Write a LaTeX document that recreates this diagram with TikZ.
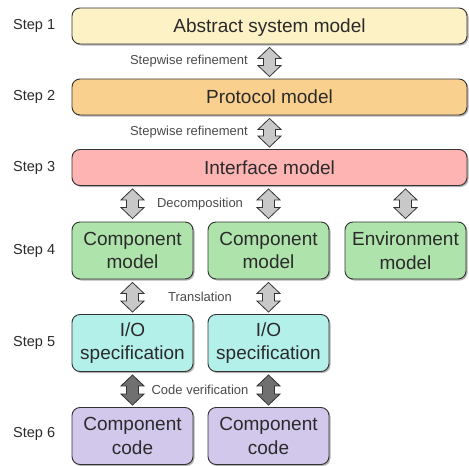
\documentclass[tikz,border=0pt]{standalone}
\usepackage{fontspec}
\setmainfont{Liberation Sans}
\usetikzlibrary{calc,shadows}
\definecolor{cyel}{HTML}{FDF1C6}
\definecolor{corg}{HTML}{FAD08F}
\definecolor{cpnk}{HTML}{FFB4B4}
\definecolor{cgrn}{HTML}{AEE4AC}
\definecolor{ccyn}{HTML}{B3F0EA}
\definecolor{cpur}{HTML}{D2C8EC}
\definecolor{cltg}{HTML}{C8C8C8}
\definecolor{cdkg}{HTML}{707070}
\definecolor{cline}{HTML}{333333}
\definecolor{ctext}{HTML}{2A2A2A}
\tikzset{
  box/.style={draw=cline, line width=0.9pt, rounded corners=8pt, inner sep=0pt,
    align=center, text=ctext, font=\fontsize{19}{23.5}\selectfont,
    drop shadow={shadow xshift=1.5pt, shadow yshift=-1.5pt, opacity=0.3, fill=black}},
  widebox/.style={box, minimum width=395pt, minimum height=36pt, text depth=0pt},
  smallbox/.style={box, minimum width=121pt, minimum height=57pt},
  steplbl/.style={anchor=west, inner sep=0pt, text=ctext, font=\fontsize{14.5}{16}\selectfont},
  arrlbl/.style={inner sep=0pt, text=ctext!85!white, font=\fontsize{13}{15}\selectfont},
  arrowshape/.style={draw=cline, line width=0.8pt, line join=miter}
}
\newcommand\blockarr[3]{%
  \draw[arrowshape, fill=#3] (#1) -- ++(11.5,11) -- ++(-5.5,0) -- ($(#2)+(6,-11)$) -- ++(5.5,0)
    -- (#2) -- ++(-11.5,-11) -- ++(5.5,0) -- ($(#1)+(-6,11)$) -- ++(-5.5,0) -- cycle;}
\begin{document}
\begin{tikzpicture}[x=1pt,y=-1pt]
\useasboundingbox (0,0) rectangle (469,466);
% boxes
\node[widebox, fill=cyel] (b1) at (269.5,26) {Abstract system model};
\node[widebox, fill=corg] (b2) at (269.5,97) {Protocol model};
\node[widebox, fill=cpnk] (b3) at (269.5,167.5) {Interface model};
\node[smallbox, fill=cgrn] (c1) at (132.5,250.5) {Component\\model};
\node[smallbox, fill=cgrn] (c2) at (268.5,250.5) {Component\\model};
\node[smallbox, fill=cgrn] (c3) at (405.5,250.5) {Environment\\model};
\node[smallbox, fill=ccyn] (s1) at (132.5,343) {I/O\\specification};
\node[smallbox, fill=ccyn] (s2) at (268.5,343) {I/O\\specification};
\node[smallbox, fill=cpur] (k1) at (132.5,436) {Component\\code};
\node[smallbox, fill=cpur] (k2) at (268.5,436) {Component\\code};
% step labels
\node[steplbl] (l1) at (13,26) {Step 1};
\node[steplbl] (l2) at (13,97) {Step 2};
\node[steplbl] (l3) at (13,167.5) {Step 3};
\node[steplbl] (l4) at (13,250.5) {Step 4};
\node[steplbl] (l5) at (13,343) {Step 5};
\node[steplbl] (l6) at (13,434) {Step 6};
% arrows
\coordinate (a1t) at ($(b1.south)+(0,3)$); \coordinate (a1b) at ($(b2.north)+(0,-2)$);
\coordinate (a2t) at ($(b2.south)+(0,3)$); \coordinate (a2b) at ($(b3.north)+(0,-2)$);
\blockarr{a1t}{a1b}{cltg}
\blockarr{a2t}{a2b}{cltg}
\coordinate (d1t) at ($(b3.south -| c1.north)+(0,3)$); \coordinate (d1b) at ($(c1.north)+(0,-3)$);
\coordinate (d2t) at ($(b3.south -| c2.north)+(0,3)$); \coordinate (d2b) at ($(c2.north)+(0,-3)$);
\coordinate (d3t) at ($(b3.south -| c3.north)+(0,3)$); \coordinate (d3b) at ($(c3.north)+(0,-3)$);
\blockarr{d1t}{d1b}{cltg}
\blockarr{d2t}{d2b}{cltg}
\blockarr{d3t}{d3b}{cltg}
\coordinate (t1t) at ($(c1.south)+(0,3)$); \coordinate (t1b) at ($(s1.north)+(0,-2)$);
\coordinate (t2t) at ($(c2.south)+(0,3)$); \coordinate (t2b) at ($(s2.north)+(0,-2)$);
\blockarr{t1t}{t1b}{cltg}
\blockarr{t2t}{t2b}{cltg}
\coordinate (v1t) at ($(s1.south)+(0,3)$); \coordinate (v1b) at ($(k1.north)+(0,-2)$);
\coordinate (v2t) at ($(s2.south)+(0,3)$); \coordinate (v2b) at ($(k2.north)+(0,-2)$);
\blockarr{v1t}{v1b}{cdkg}
\blockarr{v2t}{v2b}{cdkg}
% arrow labels
\node[arrlbl, anchor=east] (r1) at (248,61.5) {Stepwise refinement};
\node[arrlbl, anchor=east] (r2) at (248,132) {Stepwise refinement};
\node[arrlbl] (r3) at (200,204) {Decomposition};
\node[arrlbl] (r4) at (200,297) {Translation};
\node[arrlbl] (r5) at (200,390) {Code verification};
\end{tikzpicture}
\end{document}
